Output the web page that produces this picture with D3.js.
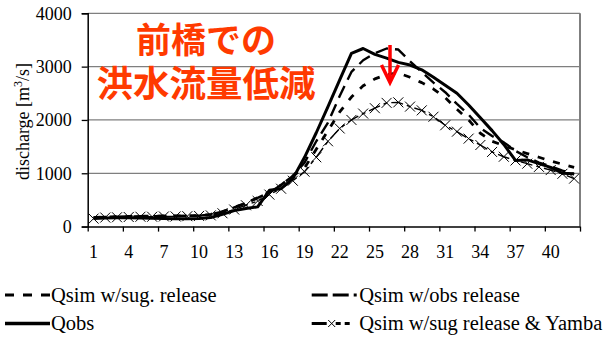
<!DOCTYPE html>
<html>
<head>
<meta charset="utf-8">
<script src="https://cdn.jsdelivr.net/npm/d3@7"></script>
</head>
<body style="margin:0">
<svg id="chart" width="607" height="338"></svg>
<script>
// Time steps on the x axis
const steps = d3.range(1, 43);

// Discharge series [m3/s]
const qSimSugRelease = [170,180,185,190,195,195,200,200,205,205,230,280,360,440,540,640,780,950,1100,1450,1800,2150,2430,2640,2770,2850,2880,2800,2700,2580,2420,2200,2000,1750,1600,1520,1440,1370,1300,1230,1170,1110];
const qSimObsRelease = [170,180,185,190,195,195,200,200,205,205,230,280,360,440,540,640,780,950,1200,1600,1950,2450,2900,3120,3250,3340,3320,3100,2900,2700,2520,2300,2100,1850,1700,1580,1420,1300,1200,1130,1050,980];
const qObs = [150,160,165,165,160,155,150,145,145,150,170,230,300,340,370,680,710,900,1300,1760,2250,2750,3250,3340,3230,3160,3080,3030,2940,2800,2650,2500,2280,2040,1800,1540,1240,1250,1180,1110,1000,990];
const qSimYamba = [150,170,175,180,185,185,190,190,195,200,210,250,320,400,480,600,710,860,1030,1300,1600,1840,2000,2120,2220,2320,2330,2250,2180,2060,1900,1780,1650,1530,1400,1310,1240,1180,1120,1060,990,900];

// Axis ticks
const yTicks = [0, 1000, 2000, 3000, 4000];
const xLabelSteps = [1, 4, 7, 10, 13, 16, 19, 22, 25, 28, 31, 34, 37, 40];

// Legend entries
const legendNames = ["Qsim w/sug. release", "Qsim w/obs release", "Qobs", "Qsim w/sug release & Yamba"];

const annotationLines = ["前橋での", "洪水流量低減"];

const SERIF = '"Liberation Serif"';
const CJK = '"Noto Sans CJK JP"';

const svg = d3.select("#chart");

const plot = { left: 87.7, right: 580, top: 13.3, bottom: 226.6 };

const x = d3.scaleBand().domain(steps).range([plot.left, plot.right]).paddingInner(0).paddingOuter(0);
const xEdge = d3.scaleLinear().domain([0, steps.length]).range([plot.left, plot.right]);
const y = d3.scaleLinear().domain([0, 4000]).range([plot.bottom, plot.top]);
const cx = d => x(d) + x.bandwidth() / 2;

// Horizontal gridlines
svg.append("g")
  .selectAll("line")
  .data(yTicks.filter(v => v > 0))
  .join("line")
  .attr("x1", plot.left).attr("x2", plot.right)
  .attr("y1", d => y(d)).attr("y2", d => y(d))
  .attr("stroke", "#7f7f7f").attr("stroke-width", 1.3);

// Right border of the plot area
svg.append("line")
  .attr("x1", plot.right).attr("x2", plot.right)
  .attr("y1", plot.top).attr("y2", plot.bottom)
  .attr("stroke", "#7f7f7f").attr("stroke-width", 2);

const line = vals => d3.line()
  .x((d, i) => cx(steps[i]))
  .y(d => y(d))(vals);

const series = [
  { key: "yamba", values: qSimYamba, width: 1.4, dash: "12,4,4,4" },
  { key: "sug", values: qSimSugRelease, width: 2.8, dash: "7,9" },
  { key: "obsrel", values: qSimObsRelease, width: 2.4, dash: "13,7" },
  { key: "obs", values: qObs, width: 3, dash: null }
];

const lines = svg.append("g");
series.forEach(s => {
  lines.append("path")
    .attr("d", line(s.values))
    .attr("fill", "none")
    .attr("stroke", "#000")
    .attr("stroke-width", s.width)
    .attr("stroke-dasharray", s.dash)
    .attr("stroke-linejoin", "round");
});

// Cross markers on the Yamba series
const crossPath = (px, py, r) => `M${px - r},${py - r}L${px + r},${py + r}M${px - r},${py + r}L${px + r},${py - r}`;
lines.append("g")
  .selectAll("path")
  .data(qSimYamba)
  .join("path")
  .attr("d", (d, i) => crossPath(cx(steps[i]), y(d), 5))
  .attr("stroke", "#000").attr("stroke-width", 1).attr("fill", "none");

// Y axis
const yAxis = svg.append("g")
  .attr("transform", `translate(${plot.left},0)`)
  .call(d3.axisLeft(y).tickValues(yTicks).tickSize(6).tickPadding(10).tickFormat(d3.format("d")));
yAxis.attr("font-family", null).attr("font-size", null);
yAxis.select(".domain").attr("stroke", "#000").attr("stroke-width", 1.5);
yAxis.selectAll(".tick line").attr("stroke", "#000").attr("stroke-width", 1.3);
yAxis.selectAll("text").style("font-family", SERIF).style("font-size", "18px").attr("fill", "#000");

// X axis: tick marks on band edges, labels at band centres
const xTickAxis = svg.append("g")
  .attr("transform", `translate(0,${plot.bottom})`)
  .call(d3.axisBottom(xEdge).tickValues(d3.range(0, steps.length + 1, 3)).tickSize(5).tickSizeOuter(0).tickFormat(""));
xTickAxis.select(".domain").attr("stroke", "#000").attr("stroke-width", 1.5);
xTickAxis.selectAll(".tick line").attr("stroke", "#000").attr("stroke-width", 1.3);

const xLabelAxis = svg.append("g")
  .attr("transform", `translate(0,${plot.bottom})`)
  .call(d3.axisBottom(x).tickValues(xLabelSteps).tickSize(0).tickPadding(19));
xLabelAxis.attr("font-family", null).attr("font-size", null);
xLabelAxis.select(".domain").remove();
xLabelAxis.selectAll("text").style("font-family", SERIF).style("font-size", "18px").attr("fill", "#000");

// Y axis title
const yTitle = svg.append("text")
  .attr("transform", "translate(29,121.5) rotate(-90)")
  .attr("text-anchor", "middle")
  .style("font-family", SERIF).style("font-size", "18px").attr("fill", "#000");
yTitle.append("tspan").text("discharge [m");
yTitle.append("tspan").style("font-size", "12px").attr("dy", -7).text("3");
yTitle.append("tspan").attr("dy", 7).text("/s]");

// Annotation: flood peak reduction at Maebashi
svg.append("g")
  .selectAll("text")
  .data(annotationLines)
  .join("text")
  .attr("x", 206)
  .attr("y", (d, i) => [37, 81.5][i])
  .attr("dominant-baseline", "central")
  .attr("text-anchor", "middle")
  .style("font-family", CJK).style("font-weight", "700")
  .style("font-size", (d, i) => [35, 36.5][i] + "px")
  .attr("fill", "#ff3a00")
  .text(d => d);

// Red arrow marking the reduced peak
const arrow = svg.append("g").attr("stroke", "#f00").attr("fill", "none").attr("stroke-width", 3.5);
arrow.append("line").attr("x1", 390).attr("x2", 390).attr("y1", 45).attr("y2", 82);
arrow.append("polyline").attr("points", "381.5,65 390,82.5 398.5,65").attr("stroke-linejoin", "miter");

// Legend
const legendItems = [
  { name: legendNames[0], x: 5, y: 295, dash: "9,9", width: 3, cross: false },
  { name: legendNames[1], x: 311.7, y: 295, dash: "16,5", width: 3, cross: false },
  { name: legendNames[2], x: 5, y: 323.5, dash: null, width: 3.5, cross: false },
  { name: legendNames[3], x: 311.7, y: 323.5, dash: "15,9,5,4,5", width: 3, cross: true }
];
const legend = svg.append("g");
legendItems.forEach(it => {
  const g = legend.append("g");
  g.append("line")
    .attr("x1", it.x).attr("x2", it.x + 45)
    .attr("y1", it.y).attr("y2", it.y)
    .attr("stroke", "#000").attr("stroke-width", it.width)
    .attr("stroke-dasharray", it.dash);
  if (it.cross) {
    g.append("path").attr("d", crossPath(it.x + 20, it.y, 3.5))
      .attr("stroke", "#000").attr("stroke-width", 1);
  }
  g.append("text")
    .attr("x", it.x < 100 ? it.x + 46 : it.x + 47.5)
    .attr("y", it.y + 6.5)
    .style("font-family", SERIF).style("font-size", "20.5px").attr("fill", "#000")
    .text(it.name);
});
</script>
</body>
</html>
